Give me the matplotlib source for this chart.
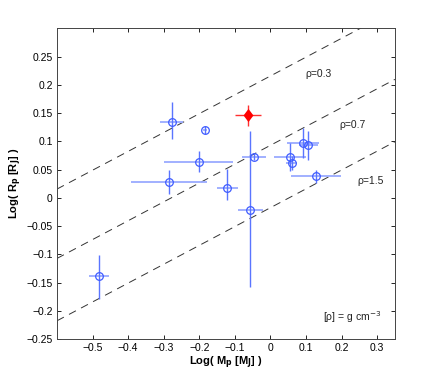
import numpy as np
import matplotlib
matplotlib.use("Agg")
import matplotlib.pyplot as plt

plt.rcParams['font.family'] = ['Liberation Sans', 'DejaVu Sans']

# Data (log mass, log radius) with errors
log_m = [-0.482, -0.277, -0.1835, -0.202, -0.285, -0.121, -0.047, -0.057, 0.055, 0.060, 0.092, 0.107, 0.129]
log_r = [-0.139, 0.134, 0.120, 0.064, 0.028, 0.017, 0.0725, -0.022, 0.072, 0.062, 0.097, 0.093, 0.038]
xerr = [0.027, 0.032, 0.005, 0.097, 0.108, 0.029, 0.034, 0.035, 0.045, 0.016, 0.046, 0.027, 0.070]
yerr_lo = [0.039, 0.029, 0.007, 0.019, 0.022, 0.021, 0.006, 0.136, 0.024, 0.012, 0.027, 0.026, 0.012]
yerr_hi = [0.038, 0.035, 0.007, 0.019, 0.022, 0.034, 0.006, 0.140, 0.025, 0.012, 0.027, 0.026, 0.012]

# highlighted planet
hl_m, hl_r = -0.063, 0.146
hl_xerr, hl_yerr = 0.036, 0.019

# iso-density lines (g cm^-3)
rhos = [0.3, 0.7, 1.5]
rho_labels = ['ρ=0.3', 'ρ=0.7', 'ρ=1.5']
rho_jup = 1.33

fig = plt.figure(figsize=(4.36, 3.82), dpi=100)
ax = fig.add_axes([0.1307, 0.112, 0.775, 0.814])

xx = np.array([-0.6, 0.35])
for rho in rhos:
    ax.plot(xx, (xx - np.log10(rho / rho_jup)) / 3.0, linestyle=(0, (8, 6)),
            color='#333333', lw=0.7)

m = np.array(log_m); r = np.array(log_r)
ax.errorbar(m, r, xerr=xerr, fmt='none', ecolor='#9aaaff', elinewidth=1.3, capsize=0)
ax.errorbar(m, r, yerr=[yerr_lo, yerr_hi], fmt='none', ecolor='#5a75ff', elinewidth=1.0, capsize=0)
ax.plot(m, r, 'o', mfc='none', mec='#3f5cff', ms=5.5, mew=0.9)

ax.errorbar([hl_m], [hl_r], xerr=hl_xerr, yerr=hl_yerr, fmt='none', ecolor='#ff3030',
            elinewidth=1.0, capsize=0)
diamond = [(0, 1), (0.75, 0), (0, -1), (-0.75, 0), (0, 1)]
ax.plot([hl_m], [hl_r], marker=diamond, color='red', ms=9.5, mew=0, linestyle='none')

text_pos = [(0.134, 0.219), (0.232, 0.129), (0.282, 0.029)]
for lab, (tx, ty) in zip(rho_labels, text_pos):
    ax.text(tx, ty, lab, fontsize=7.5, ha='center', va='center', color='#222222')
ax.text(0.148, -0.21, r'[ρ] = g cm$^{-3}$', fontsize=7.5, ha='left', va='center', color='#222222')

ax.set_xlim(-0.6, 0.35)
ax.set_ylim(-0.25, 0.3)
ax.set_xticks(np.round(np.arange(-0.5, 0.31, 0.1), 2))
ax.set_yticks(np.round(np.arange(-0.25, 0.26, 0.05), 2))
ax.set_xticklabels(['−0.5', '−0.4', '−0.3', '−0.2', '−0.1', '0', '0.1', '0.2', '0.3'])
ax.set_yticklabels(['−0.25', '−0.2', '−0.15', '−0.1', '−0.05', '0', '0.05', '0.1', '0.15', '0.2', '0.25'])
ax.tick_params(direction='in', length=3, width=0.6, labelsize=7.5, top=True, right=True, pad=3)
for s in ax.spines.values():
    s.set_linewidth(0.7)
    s.set_color('#444444')

ax.set_xlabel(r'Log( M$_\mathbf{p}$ [M$_\mathbf{J}$] )', fontsize=8, fontweight='bold', labelpad=1)
ax.set_ylabel(r'Log( R$_\mathbf{p}$ [R$_\mathbf{J}$] )', fontsize=8, fontweight='bold', labelpad=2)

fig.savefig('out.png', dpi=100)
